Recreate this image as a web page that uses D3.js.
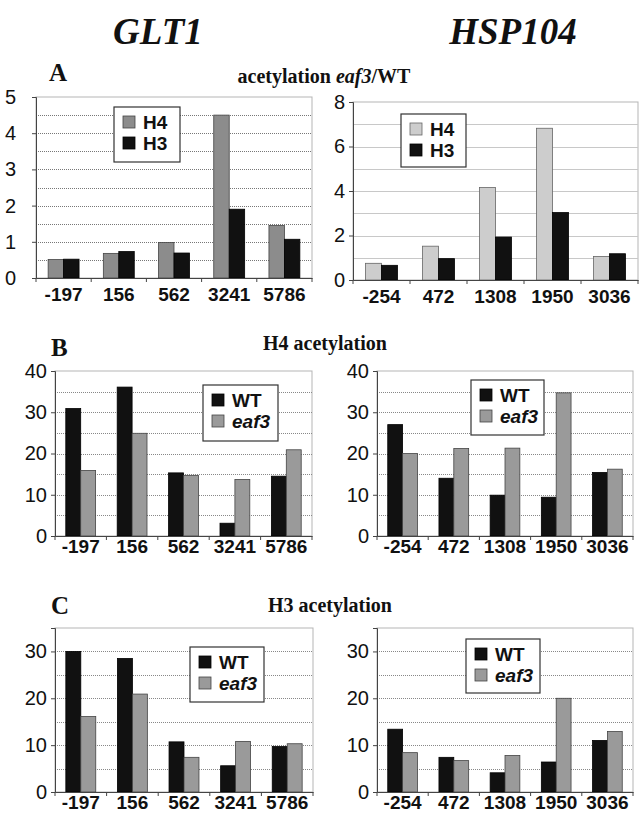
<!DOCTYPE html>
<html><head><meta charset="utf-8">
<script src="https://cdn.jsdelivr.net/npm/d3@7"></script>
<style>
html,body{margin:0;padding:0;background:#fff;}
svg{display:block;}
</style></head>
<body>
<svg id="c" width="641" height="813"></svg>
<script>
// ---------- DATA ----------
const catsGLT1 = ["-197", "156", "562", "3241", "5786"];
const catsHSP104 = ["-254", "472", "1308", "1950", "3036"];

// Panel A: acetylation eaf3/WT
const glt1RatioH4 = [0.51, 0.68, 0.98, 4.5, 1.45];
const glt1RatioH3 = [0.52, 0.73, 0.69, 1.9, 1.07];
const hspRatioH4 = [0.75, 1.52, 4.16, 6.82, 1.06];
const hspRatioH3 = [0.66, 0.96, 1.93, 3.03, 1.18];

// Panel B: H4 acetylation
const glt1H4WT = [30.9, 36.1, 15.3, 3.1, 14.5];
const glt1H4eaf3 = [15.9, 24.9, 14.7, 13.7, 20.9];
const hspH4WT = [27.0, 14.0, 9.9, 9.4, 15.4];
const hspH4eaf3 = [20.0, 21.2, 21.3, 34.7, 16.2];

// Panel C: H3 acetylation
const glt1H3WT = [30.0, 28.5, 10.7, 5.6, 9.7];
const glt1H3eaf3 = [16.1, 20.9, 7.4, 10.8, 10.3];
const hspH3WT = [13.4, 7.4, 4.1, 6.4, 11.0];
const hspH3eaf3 = [8.4, 6.7, 7.8, 20.0, 12.9];

const yTicksA1 = [0, 1, 2, 3, 4, 5];
const yTicksA2 = [0, 2, 4, 6, 8];
const yTicksB = [0, 10, 20, 30, 40];
const yTicksC = [0, 10, 20, 30];

// ---------- DRAWING ----------
const svg = d3.select("#c");
const SERIF = "'Liberation Serif','Times New Roman',serif";
const SANS = "'Liberation Sans',Arial,Helvetica,sans-serif";

function txt(x, y, s, opts) {
  return svg.append("text").attr("x", x).attr("y", y)
    .attr("font-family", opts.family || SERIF)
    .attr("font-size", opts.size)
    .attr("font-weight", opts.weight || "bold")
    .attr("font-style", opts.style || "normal")
    .attr("text-anchor", opts.anchor || "start")
    .attr("fill", "#111")
    .text(s);
}

// Headers
txt(158, 44, "GLT1", {size: 37, style: "italic", anchor: "middle"});
txt(513, 44, "HSP104", {size: 37, style: "italic", anchor: "middle"});
txt(49, 81, "A", {size: 25});
txt(51, 356, "B", {size: 25});
txt(51, 614, "C", {size: 25});
{
  const t = txt(324, 83, "", {size: 20, anchor: "middle"});
  t.append("tspan").text("acetylation ");
  t.append("tspan").attr("font-style", "italic").text("eaf3");
  t.append("tspan").text("/WT");
}
txt(325, 350, "H4 acetylation", {size: 20, anchor: "middle"});
txt(330, 612, "H3 acetylation", {size: 20, anchor: "middle"});

function panel(cfg) {
  const g = svg.append("g");
  const x = d3.scaleBand().domain(cfg.cats).range([cfg.x0, cfg.x1])
    .paddingInner(cfg.pad).paddingOuter(cfg.pad / 2);
  const xs = d3.scaleBand().domain([0, 1]).range([0, x.bandwidth()]);
  const y = d3.scaleLinear().domain(cfg.domain).range([cfg.y1, cfg.y0]);

  // plot border
  g.append("rect").attr("x", cfg.x0).attr("y", cfg.y0)
    .attr("width", cfg.x1 - cfg.x0).attr("height", cfg.y1 - cfg.y0)
    .attr("fill", "#fff").attr("stroke", "#b5b5b5").attr("stroke-width", 1);

  // gridlines
  const grid = d3.range(cfg.domain[0] + cfg.gridStep, cfg.domain[1] - 1e-9, cfg.gridStep);
  g.selectAll("line.grid").data(grid).enter().append("line")
    .attr("x1", cfg.x0).attr("x2", cfg.x1)
    .attr("y1", d => Math.round(y(d)) + 0.5).attr("y2", d => Math.round(y(d)) + 0.5)
    .attr("stroke", cfg.gridColor).attr("stroke-width", 1)
    .attr("stroke-dasharray", cfg.gridDash || null);

  // bars
  const series = [cfg.s1, cfg.s2];
  series.forEach((s, si) => {
    g.selectAll(null).data(s.values).enter().append("rect")
      .attr("x", (d, i) => x(cfg.cats[i]) + xs(si))
      .attr("width", xs.bandwidth())
      .attr("y", d => y(d))
      .attr("height", d => y(0) - y(d))
      .attr("fill", s.color).attr("stroke", s.stroke).attr("stroke-width", 0.8);
  });

  // y axis
  const ya = d3.axisLeft(y).tickValues(cfg.yTicks).tickSize(4).tickPadding(cfg.yPad).tickFormat(d3.format("d"));
  const yg = g.append("g").attr("transform", `translate(${cfg.x0},0)`).call(ya);
  yg.select(".domain").attr("stroke", "#444");
  yg.selectAll(".tick line").attr("stroke", "#444");
  yg.selectAll(".tick text").attr("font-family", SANS).attr("font-size", 20)
    .attr("font-weight", "normal").attr("fill", "#111");

  // x axis
  const xa = d3.axisBottom(x).tickSize(0).tickPadding(cfg.xPad);
  const xg = g.append("g").attr("transform", `translate(0,${cfg.y1})`).call(xa);
  xg.select(".domain").attr("stroke", "#444");
  xg.selectAll(".tick text").attr("font-family", SANS).attr("font-size", 19)
    .attr("font-weight", "bold").attr("fill", "#111");
  // boundary ticks
  const bounds = d3.range(cfg.cats.length + 1).map(i => cfg.x0 + i * x.step());
  g.selectAll(null).data(bounds).enter().append("line")
    .attr("x1", d => d).attr("x2", d => d).attr("y1", cfg.y1).attr("y2", cfg.y1 + 4)
    .attr("stroke", "#444");

  // legend
  const L = cfg.legend;
  g.append("rect").attr("x", L.x).attr("y", L.y).attr("width", L.w).attr("height", L.h)
    .attr("fill", "#fff").attr("stroke", "#333").attr("stroke-width", 1.2);
  series.forEach((s, si) => {
    const ry = L.y + 9 + si * 21;
    g.append("rect").attr("x", L.x + 9).attr("y", ry).attr("width", 12).attr("height", 12)
      .attr("fill", s.color).attr("stroke", s.stroke).attr("stroke-width", 0.8);
    g.append("text").attr("x", L.x + 29).attr("y", ry + 13)
      .attr("font-family", SANS).attr("font-size", 19).attr("font-weight", "bold")
      .attr("font-style", s.italic ? "italic" : "normal").attr("fill", "#111")
      .text(s.name);
  });
}

const BLACK = "#111";
const MIDGRAY = "#8c8c8c";
const LIGHTGRAY = "#cdcdcd";
const EAFGRAY = "#9a9a9a";

panel({cats: catsGLT1, x0: 36, x1: 312, y0: 97, y1: 278, domain: [0, 5], pad: 0.44,
  gridStep: 0.5, gridColor: "#777", gridDash: "1,1", yTicks: yTicksA1, yPad: 16, xPad: 10,
  s1: {name: "H4", values: glt1RatioH4, color: MIDGRAY, stroke: "#444"},
  s2: {name: "H3", values: glt1RatioH3, color: BLACK, stroke: "#000"},
  legend: {x: 114, y: 107, w: 66, h: 55}});

panel({cats: catsHSP104, x0: 353, x1: 638, y0: 102, y1: 280, domain: [0, 8], pad: 0.44,
  gridStep: 1, gridColor: "#c8c8c8", gridDash: null, yTicks: yTicksA2, yPad: 4, xPad: 10,
  s1: {name: "H4", values: hspRatioH4, color: LIGHTGRAY, stroke: "#666"},
  s2: {name: "H3", values: hspRatioH3, color: BLACK, stroke: "#000"},
  legend: {x: 401, y: 114, w: 65, h: 53}});

panel({cats: catsGLT1, x0: 55, x1: 312, y0: 371, y1: 536, domain: [0, 40], pad: 0.42,
  gridStep: 5, gridColor: "#888", gridDash: "1,1", yTicks: yTicksB, yPad: 4, xPad: 4,
  s1: {name: "WT", values: glt1H4WT, color: BLACK, stroke: "#000"},
  s2: {name: "eaf3", values: glt1H4eaf3, color: EAFGRAY, stroke: "#444", italic: true},
  legend: {x: 203, y: 385, w: 75, h: 56}});

panel({cats: catsHSP104, x0: 377, x1: 633, y0: 371, y1: 536, domain: [0, 40], pad: 0.42,
  gridStep: 5, gridColor: "#888", gridDash: "1,1", yTicks: yTicksB, yPad: 4, xPad: 4,
  s1: {name: "WT", values: hspH4WT, color: BLACK, stroke: "#000"},
  s2: {name: "eaf3", values: hspH4eaf3, color: EAFGRAY, stroke: "#444", italic: true},
  legend: {x: 471, y: 380, w: 73, h: 55}});

panel({cats: catsGLT1, x0: 55, x1: 313, y0: 628, y1: 792, domain: [0, 35], pad: 0.42,
  gridStep: 5, gridColor: "#888", gridDash: "1,1", yTicks: yTicksC, yPad: 4, xPad: 4,
  s1: {name: "WT", values: glt1H3WT, color: BLACK, stroke: "#000"},
  s2: {name: "eaf3", values: glt1H3eaf3, color: EAFGRAY, stroke: "#444", italic: true},
  legend: {x: 190, y: 647, w: 74, h: 55}});

panel({cats: catsHSP104, x0: 377, x1: 633, y0: 628, y1: 792, domain: [0, 35], pad: 0.42,
  gridStep: 5, gridColor: "#888", gridDash: "1,1", yTicks: yTicksC, yPad: 4, xPad: 4,
  s1: {name: "WT", values: hspH3WT, color: BLACK, stroke: "#000"},
  s2: {name: "eaf3", values: hspH3eaf3, color: EAFGRAY, stroke: "#444", italic: true},
  legend: {x: 466, y: 639, w: 74, h: 54}});
</script>
</body></html>
